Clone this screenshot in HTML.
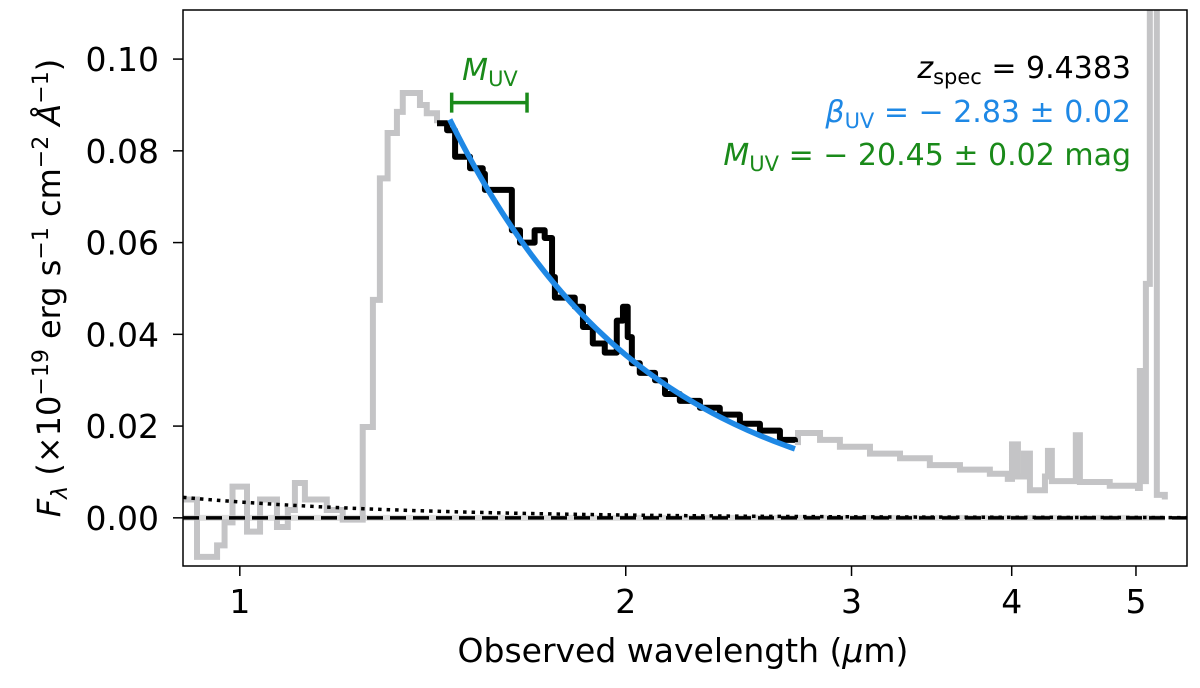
<!DOCTYPE html>
<html><head><meta charset="utf-8"><style>
body{margin:0;background:#fff}
svg text{font-family:"DejaVu Sans","Liberation Sans",sans-serif}
</style></head><body>
<svg id="chart" width="1200" height="683" xmlns="http://www.w3.org/2000/svg">
<g id="plot"></g>
<text x="683" y="662" font-size="33" text-anchor="middle">Observed wavelength (<tspan font-style="italic">μ</tspan>m)</text>
<text transform="translate(60,288) rotate(-90)" font-size="32" text-anchor="middle"><tspan font-style="italic">F</tspan><tspan font-style="italic" font-size="22" dy="7">λ</tspan><tspan dy="-7"> (×10</tspan><tspan font-size="22" dy="-12">−19</tspan><tspan dy="12"> erg s</tspan><tspan font-size="22" dy="-12">−1</tspan><tspan dy="12"> cm</tspan><tspan font-size="22" dy="-12">−2</tspan><tspan dy="12" font-style="italic"> Å</tspan><tspan font-size="22" dy="-12">−1</tspan><tspan dy="12">)</tspan></text>
<text x="490" y="80" font-size="30" fill="#1a8a1a" text-anchor="middle"><tspan font-style="italic">M</tspan><tspan font-size="21" dy="6">UV</tspan></text>
<text x="1131" y="78" font-size="30" text-anchor="end"><tspan font-style="italic">z</tspan><tspan font-size="21" dy="6">spec</tspan><tspan dy="-6"> = 9.4383</tspan></text>
<text x="1131" y="122" font-size="30" fill="#1e88e5" text-anchor="end"><tspan font-style="italic">β</tspan><tspan font-size="21" dy="6">UV</tspan><tspan dy="-6"> = − 2.83 ± 0.02</tspan></text>
<text x="1131" y="165" font-size="30" fill="#1a8a1a" text-anchor="end"><tspan font-style="italic">M</tspan><tspan font-size="21" dy="6">UV</tspan><tspan dy="-6"> = − 20.45 ± 0.02 mag</tspan></text>
</svg>
<script>
const grayWave=[0.903,0.926,0.960,0.973,0.987,1.013,1.037,1.069,1.090,1.104,1.124,1.169,1.203,1.247,1.270,1.286,1.304,1.326,1.340,1.382,1.399,1.425];
const grayFlux=[0.004,-0.0085,-0.006,-0.001,0.0068,-0.003,0.004,-0.002,0.0017,0.0076,0.004,0.0017,-0.0004,0.0198,0.0475,0.074,0.0839,0.0885,0.0926,0.090,0.0882,0.086];
const blackWave=[1.425,1.451,1.472,1.512,1.547,1.553,1.630,1.654,1.698,1.729,1.752,1.761,1.825,1.852,1.885,1.926,1.968,1.990,2.007,2.022,2.051,2.108,2.146,2.204,2.285,2.368,2.455,2.545,2.638,2.71];
const blackFlux=[0.086,0.0845,0.0787,0.0762,0.075,0.0715,0.0627,0.060,0.0627,0.061,0.0525,0.048,0.046,0.0416,0.038,0.036,0.043,0.046,0.0394,0.0337,0.0316,0.030,0.027,0.0255,0.024,0.0225,0.0205,0.019,0.017,0.0165];
const tailWave=[2.71,2.725,2.835,2.938,3.101,3.273,3.453,3.645,3.846,3.972,4.002,4.045,4.089,4.133,4.246,4.269,4.299,4.488,4.521,4.77,5.018,5.035,5.071,5.09,5.126,5.191,5.266];
const tailFlux=[0.0165,0.0185,0.017,0.0155,0.014,0.013,0.0115,0.0105,0.0096,0.0085,0.016,0.009,0.014,0.006,0.009,0.0146,0.008,0.018,0.0078,0.007,0.0065,0.032,0.008,0.051,0.13,0.005,0.004];
const betaUV=-2.83;
const fitNorm=0.0355;
const fitRange=[1.458,2.71];
const dotNorm=0.0045, dotSlope=-2.5;
const muvRange=[1.463,1.675];
const muvFlux=0.0905;
const xTicks=[1,2,3,4,5];
const yTicks=[0.00,0.02,0.04,0.06,0.08,0.10];

const L=183,R=1187,T=10,B=566;
const xmin=0.903,xmax=5.48,ymin=-0.0105,ymax=0.1107;
const X=v=>L+(Math.log10(v)-Math.log10(xmin))/(Math.log10(xmax)-Math.log10(xmin))*(R-L);
const Y=v=>B-(v-ymin)/(ymax-ymin)*(B-T);
const NS='http://www.w3.org/2000/svg';
const g=document.getElementById('plot');
function mk(tag,attrs){const e=document.createElementNS(NS,tag);for(const k in attrs)e.setAttribute(k,attrs[k]);g.appendChild(e);return e;}
function steps(w,f){let d='M'+X(w[0])+','+Y(f[0]);for(let i=1;i<w.length;i++){d+=' H'+X(w[i])+' V'+Y(f[i]);}return d;}

const clip=document.createElementNS(NS,'clipPath');clip.setAttribute('id','cp');
const cr=document.createElementNS(NS,'rect');cr.setAttribute('x',L);cr.setAttribute('y',T);cr.setAttribute('width',R-L);cr.setAttribute('height',B-T);clip.appendChild(cr);g.appendChild(clip);

let e=mk('line',{x1:L,x2:X(5.266),y1:Y(0),y2:Y(0),stroke:'#ddd','stroke-width':6,'clip-path':'url(#cp)'});


e=mk('path',{d:steps(grayWave,grayFlux),fill:'none',stroke:'#c4c4c6','stroke-width':6,'clip-path':'url(#cp)'});


e=mk('path',{d:steps(tailWave,tailFlux),fill:'none',stroke:'#c4c4c6','stroke-width':6,'clip-path':'url(#cp)'});


let dd='';for(let i=0;i<=100;i++){const w=xmin*Math.pow(xmax/xmin,i/100);dd+=(i?'L':'M')+X(w)+','+Y(dotNorm*Math.pow(w/0.9,dotSlope));}
e=mk('path',{d:dd,fill:'none',stroke:'#000','stroke-width':3.5,'stroke-dasharray':'3.5,5'});


e=mk('line',{x1:L,x2:R,y1:Y(0),y2:Y(0),stroke:'#000','stroke-width':3.5,'stroke-dasharray':'16,7'});


e=mk('path',{d:steps(blackWave,blackFlux),fill:'none',stroke:'#000','stroke-width':6,'stroke-linejoin':'round'});


let bd='';for(let i=0;i<=80;i++){const w=fitRange[0]*Math.pow(fitRange[1]/fitRange[0],i/80);bd+=(i?'L':'M')+X(w)+','+Y(fitNorm*Math.pow(w/2,betaUV));}
e=mk('path',{d:bd,fill:'none',stroke:'#1e88e5','stroke-width':5.5});


const mx1=X(muvRange[0]),mx2=X(muvRange[1]),my=Y(muvFlux);
e=mk('path',{d:`M${mx1},${my}H${mx2}M${mx1},${my-10}V${my+10}M${mx2},${my-10}V${my+10}`,stroke:'#1a8a1a','stroke-width':3.5,fill:'none'});


e=mk('rect',{x:L,y:T,width:R-L,height:B-T,fill:'none',stroke:'#000','stroke-width':1.5});


for(const t of xTicks){
  e=mk('line',{x1:X(t),x2:X(t),y1:B,y2:B+10,stroke:'#000','stroke-width':1.5});
  
  
  e=mk('text',{x:X(t),y:B+47,'font-size':33,'text-anchor':'middle'});e.textContent=t;
  
  
}
for(const t of yTicks){
  e=mk('line',{x1:L-10,x2:L,y1:Y(t),y2:Y(t),stroke:'#000','stroke-width':1.5});
  
  
  e=mk('text',{x:L-24,y:Y(t)+12,'font-size':33,'text-anchor':'end'});e.textContent=t.toFixed(2);
  
  
}
</script>
</body></html>
